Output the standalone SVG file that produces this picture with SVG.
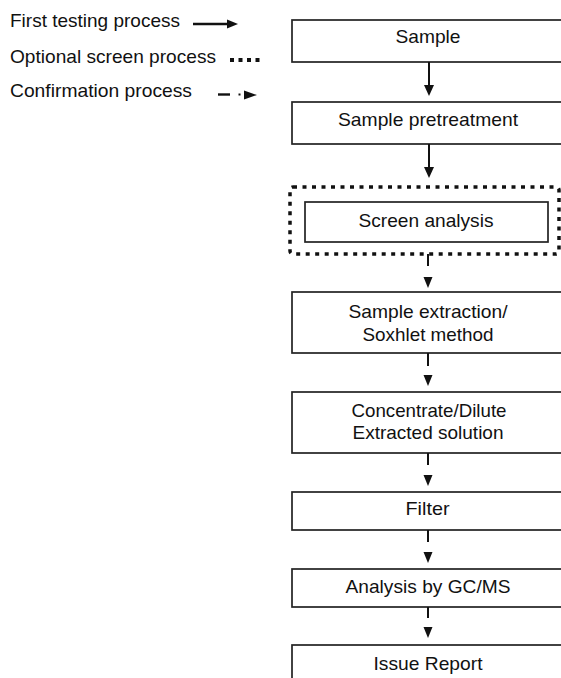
<svg xmlns="http://www.w3.org/2000/svg" width="561" height="678" viewBox="0 0 561 678">
<style>
text{font-family:"Liberation Sans",Arial,sans-serif;font-size:19px;fill:#111}
.m{text-anchor:middle}
.box{fill:#fff;stroke:#222;stroke-width:1.7}
.ln{stroke:#111;stroke-width:2;fill:none}
.hd{fill:#111}
.dot{fill:none;stroke:#111;stroke-width:3.5;stroke-dasharray:4 5.5}
</style>
<rect width="561" height="678" fill="#fff"/>
<g id="legend">
<text x="10" y="27" textLength="170" lengthAdjust="spacingAndGlyphs">First testing process</text>
<text x="10" y="63" textLength="206" lengthAdjust="spacingAndGlyphs">Optional screen process</text>
<text x="10" y="97" textLength="182" lengthAdjust="spacingAndGlyphs">Confirmation process</text>
<line class="ln" x1="193" y1="24" x2="229" y2="24" style="stroke-width:2.4"/>
<polygon class="hd" points="227,19.5 238,24 227,28.5"/>
<g class="hd"><rect x="230" y="58" width="4" height="4"/><rect x="238.5" y="58" width="4" height="4"/><rect x="247" y="58" width="4" height="4"/><rect x="255.5" y="58" width="4" height="4"/></g>
<line class="ln" x1="218" y1="94.5" x2="230" y2="94.5" style="stroke-width:2.4"/>
<rect class="hd" x="238.5" y="93.5" width="2" height="2"/>
<polygon class="hd" points="244,90.5 257,95 244,99.5"/>
</g>
<g id="n-sample"><rect class="box" x="292" y="20" width="275" height="42"/><text class="m" x="428" y="43" textLength="65" lengthAdjust="spacingAndGlyphs">Sample</text></g>
<g id="n-pretreatment"><rect class="box" x="292" y="102" width="275" height="42"/><text class="m" x="428" y="126" textLength="180" lengthAdjust="spacingAndGlyphs">Sample pretreatment</text></g>
<g id="n-screen">
<rect class="dot" x="290" y="187" width="269" height="67" rx="3"/>
<rect class="box" x="305" y="202" width="243" height="40"/>
<text class="m" x="426" y="227" textLength="135" lengthAdjust="spacingAndGlyphs">Screen analysis</text>
</g>
<g id="n-extraction"><rect class="box" x="292" y="292" width="275" height="61"/>
<text class="m" x="428" y="318" textLength="159" lengthAdjust="spacingAndGlyphs">Sample extraction/</text>
<text class="m" x="428" y="341" textLength="131" lengthAdjust="spacingAndGlyphs">Soxhlet method</text></g>
<g id="n-concentrate"><rect class="box" x="292" y="392" width="275" height="61"/>
<text class="m" x="429" y="417" textLength="155" lengthAdjust="spacingAndGlyphs">Concentrate/Dilute</text>
<text class="m" x="428" y="439" textLength="151" lengthAdjust="spacingAndGlyphs">Extracted solution</text></g>
<g id="n-filter"><rect class="box" x="292" y="492" width="275" height="38"/><text class="m" x="427.5" y="515" textLength="44" lengthAdjust="spacingAndGlyphs">Filter</text></g>
<g id="n-analysis"><rect class="box" x="292" y="569" width="275" height="38"/><text class="m" x="428" y="593" textLength="165" lengthAdjust="spacingAndGlyphs">Analysis by GC/MS</text></g>
<g id="n-report"><rect class="box" x="292" y="645" width="275" height="45"/><text class="m" x="428" y="670" textLength="109" lengthAdjust="spacingAndGlyphs">Issue Report</text></g>
<g id="connectors">
<line class="ln" x1="429" y1="62" x2="429" y2="86"/><polygon class="hd" points="424,85 434,85 429,96"/>
<line class="ln" x1="429" y1="144" x2="429" y2="168"/><polygon class="hd" points="424,167 434,167 429,178"/>
<line class="ln" x1="428" y1="254" x2="428" y2="266"/><polygon class="hd" points="423.5,277 432.5,277 428,288"/>
<line class="ln" x1="428" y1="353" x2="428" y2="366"/><polygon class="hd" points="423.5,375 432.5,375 428,386"/>
<line class="ln" x1="428" y1="453" x2="428" y2="465"/><polygon class="hd" points="423.5,475 432.5,475 428,486"/>
<line class="ln" x1="428" y1="530" x2="428" y2="542"/><polygon class="hd" points="423.5,552 432.5,552 428,563"/>
<line class="ln" x1="428" y1="607" x2="428" y2="618"/><polygon class="hd" points="423.5,627 432.5,627 428,638"/>
</g>
</svg>
